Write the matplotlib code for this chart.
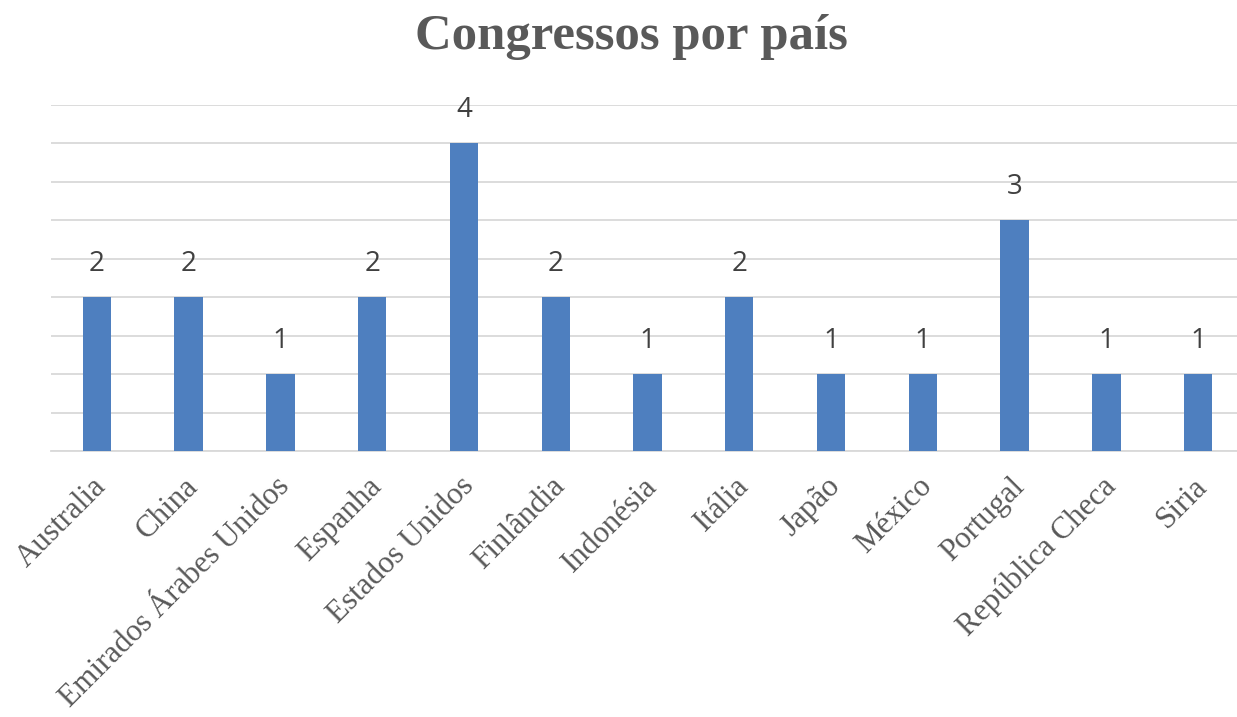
import matplotlib
matplotlib.use("Agg")
import matplotlib.pyplot as plt
import matplotlib.transforms as mtransforms
import numpy as np

categories = ["Australia", "China", "Emirados Árabes Unidos", "Espanha", "Estados Unidos",
              "Finlândia", "Indonésia", "Itália", "Japão", "México", "Portugal",
              "República Checa", "Siria"]
values = [2, 2, 1, 2, 4, 2, 1, 2, 1, 1, 3, 1, 1]
title = "Congressos por país"

fig = plt.figure(figsize=(12.37, 7.17), dpi=100)
ax = fig.add_axes([51/1237, 266/717, 1193/1237, (451-105)/717])

x = np.arange(len(categories))
ax.bar(x, values, width=0.31, color="#4e7fbf", zorder=3)
ax.set_xlim(-0.5, len(categories) - 0.5)
ax.set_ylim(0, 4.5)
ax.set_yticks(np.arange(0, 4.51, 0.5))
ax.yaxis.grid(True, color="#d9d9d9", linewidth=1.3, zorder=0)
ax.tick_params(axis="y", left=False, labelleft=False)
ax.tick_params(axis="x", length=0, pad=15)
for s in ["top", "right", "left"]:
    ax.spines[s].set_visible(False)
ax.spines["bottom"].set_color("#d9d9d9")
ax.spines["bottom"].set_linewidth(1.3)

ax.set_xticks(x)
ax.set_xticklabels(categories, rotation=45, ha="right", va="top", rotation_mode="anchor",
                   fontfamily="Liberation Serif", fontsize=22.3, color="#595959")
shift = mtransforms.ScaledTranslation(-5/100, 0, fig.dpi_scale_trans)
for lbl in ax.get_xticklabels():
    lbl.set_transform(lbl.get_transform() + shift)

for xi, v in zip(x, values):
    ax.annotate(str(v), (xi, v), xytext=(0, 19), textcoords="offset pixels",
                ha="center", va="bottom",
                fontsize=20, color="#404040", fontfamily="Open Sans")

fig.text(631/1237, 1 - 37/717, title, ha="center", va="center", fontsize=36.5,
         fontweight="bold", fontfamily="Liberation Serif", color="#595959")

fig.savefig("out.png", dpi=100)
